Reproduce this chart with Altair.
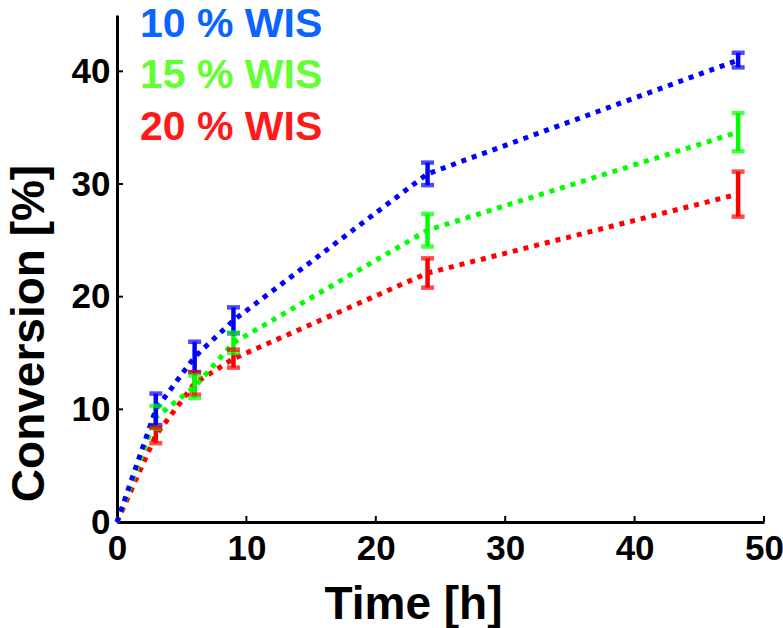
import altair as alt
import pandas as pd

# ---- data ----
times = [0, 3, 6, 9, 24, 48]
series_names = ["20 % WIS", "15 % WIS", "10 % WIS"]
conv20 = [0, 7.7, 12.3, 14.5, 22.1, 29.1]
err20 = [0, 0.7, 1.0, 0.8, 1.3, 2.0]
conv15 = [0, 9.3, 12.0, 15.9, 25.9, 34.6]
err15 = [0, 1.0, 1.0, 0.9, 1.45, 1.7]
conv10 = [0, 10.0, 14.65, 17.9, 30.9, 41.0]
err10 = [0, 1.4, 1.35, 1.15, 1.0, 0.65]
line_colors = ["#ff0000", "#00ff00", "#0000ff"]
legend_labels = ["10 % WIS", "15 % WIS", "20 % WIS"]
legend_colors = ["#0a64ff", "#63ff33", "#ff1a1a"]
x_ticks = [10, 20, 30, 40, 50]
y_ticks = [10, 20, 30, 40]

rows = []
for name, conv, err in zip(series_names, [conv20, conv15, conv10], [err20, err15, err10]):
    for t, c, e in zip(times, conv, err):
        rows.append({"time": t, "conv": c, "lo": c - e, "hi": c + e, "err": e, "series": name})
df = pd.DataFrame(rows)
df_err = df[df["err"] > 0]

W, H = 647, 507
FONT = "Liberation Sans"

xscale = alt.Scale(domain=[0, 50], nice=False, zero=False)
yscale = alt.Scale(domain=[0, 45], nice=False)
xaxis = alt.Axis(values=[0, 10, 20, 30, 40, 50], title="Time [h]", ticks=False, grid=False,
                 domainColor="black", domainWidth=3, labelFont=FONT, labelFontSize=35,
                 labelFontWeight="bold", labelColor="black", labelPadding=9, labelFlush=False,
                 titleFont=FONT, titleFontSize=46, titleFontWeight="bold", titleColor="black",
                 titleX=296, titleY=96, titleBaseline="alphabetic", titleAlign="center")
yaxis = alt.Axis(values=[0, 10, 20, 30, 40], title="Conversion [%]", ticks=False, grid=False,
                 domainColor="black", domainWidth=3, labelFont=FONT, labelFontSize=35,
                 labelFontWeight="bold", labelColor="black", labelPadding=7, labelFlush=False,
                 titleFont=FONT, titleFontSize=46, titleFontWeight="bold", titleColor="black",
                 titleX=-88, titleY=318, titleAngle=-90, titleBaseline="middle", titleAlign="center")

X = alt.X("time:Q", scale=xscale, axis=xaxis)
Y = alt.Y("conv:Q", scale=yscale, axis=yaxis)
C = alt.Color("series:N", scale=alt.Scale(domain=series_names, range=line_colors), legend=None)

lines = alt.Chart(df).mark_line(strokeWidth=5, strokeDash=[5, 6], strokeCap="butt").encode(
    x=X, y=Y, color=C, order=alt.Order("time:Q"))

bars = alt.Chart(df_err).mark_rule(strokeWidth=4.5).encode(
    x=X, y=alt.Y("lo:Q", scale=yscale, axis=yaxis), y2="hi:Q", color=C)
cap_lo = alt.Chart(df_err).mark_tick(orient="horizontal", size=13, thickness=4.5).encode(
    x=X, y=alt.Y("lo:Q", scale=yscale, axis=yaxis), color=C)
cap_hi = alt.Chart(df_err).mark_tick(orient="horizontal", size=13, thickness=4.5).encode(
    x=X, y=alt.Y("hi:Q", scale=yscale, axis=yaxis), color=C)

xt = alt.Chart(pd.DataFrame({"time": x_ticks})).mark_rule(strokeWidth=2, color="black").encode(
    x=X, y=alt.value(H), y2=alt.value(H - 6))
yt = alt.Chart(pd.DataFrame({"conv": y_ticks})).mark_rule(strokeWidth=2, color="black").encode(
    y=Y, x=alt.value(0), x2=alt.value(6))

leg = alt.Chart(pd.DataFrame({"label": legend_labels, "ypix": [10, 61, 113]})).mark_text(
    align="left", baseline="middle", font=FONT, fontSize=41, fontWeight="bold").encode(
    x=alt.value(23), y=alt.Y("ypix:Q", scale=None),
    text="label:N",
    color=alt.Color("label:N", scale=alt.Scale(domain=legend_labels, range=legend_colors), legend=None))

chart = alt.layer(lines, bars, cap_lo, cap_hi, xt, yt, leg).resolve_scale(color="independent").properties(
    width=W, height=H, autosize="none",
    padding={"left": 117, "top": 15, "right": 19, "bottom": 106},
    background="white",
).configure_view(stroke=None)

chart.save("out.html", embed_options={"renderer": "svg", "actions": False})
